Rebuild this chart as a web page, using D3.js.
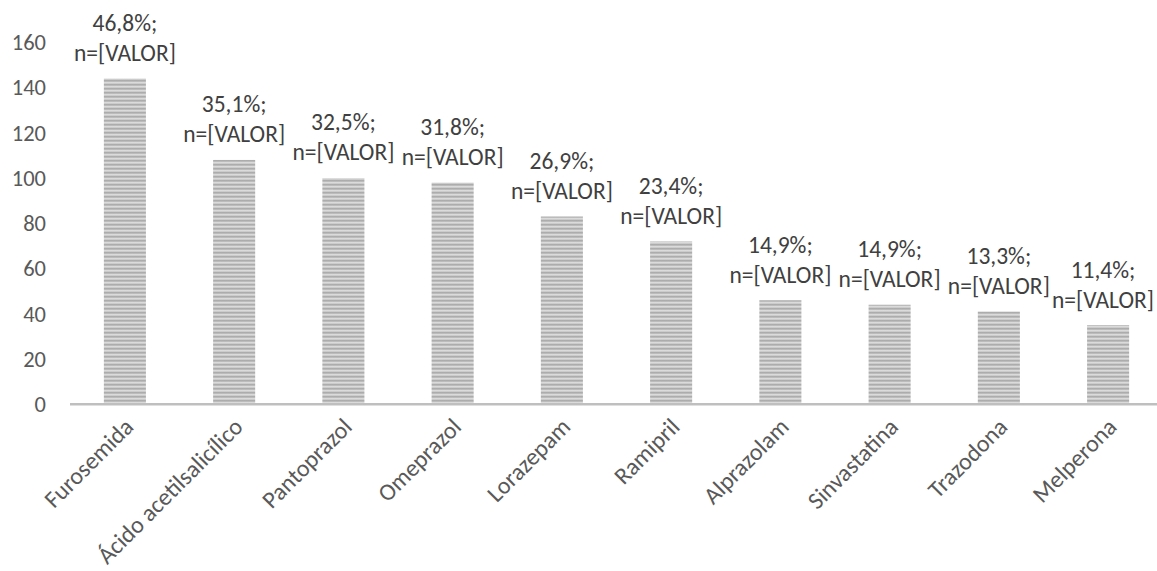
<!DOCTYPE html>
<html>
<head>
<meta charset="utf-8">
<script src="https://cdn.jsdelivr.net/npm/d3@7"></script>
<style>
  html, body { margin: 0; padding: 0; background: #fff; }
  svg { display: block; }
  text { font-family: Carlito, Calibri, Lato, "Open Sans", sans-serif; }
</style>
</head>
<body>
<svg id="chart" width="1157" height="571"></svg>
<script>
// Medication counts with their share of patients
const categories = ["Furosemida", "Ácido acetilsalicílico", "Pantoprazol", "Omeprazol", "Lorazepam",
                    "Ramipril", "Alprazolam", "Sinvastatina", "Trazodona", "Melperona"];
const counts = [144, 108, 100, 98, 83, 72, 46, 44, 41, 35];
const percents = ["46,8%", "35,1%", "32,5%", "31,8%", "26,9%", "23,4%", "14,9%", "14,9%", "13,3%", "11,4%"];
const yTicks = [0, 20, 40, 60, 80, 100, 120, 140, 160];

const W = 1157, H = 571;
const svg = d3.select("#chart");

const x = d3.scaleBand().domain(categories).range([70, 1163]).paddingInner(0.615).paddingOuter(0.31);
const y = d3.scaleLinear().domain([0, 160]).range([404.3, 42.3]);

// striped fill for the columns
const defs = svg.append("defs");
const grad = defs.append("linearGradient").attr("id", "stripeGrad")
  .attr("x1", 0).attr("y1", 0).attr("x2", 0).attr("y2", 1);
grad.append("stop").attr("offset", "0%").attr("stop-color", "#a6a6a6");
grad.append("stop").attr("offset", "35%").attr("stop-color", "#b8b8b8");
grad.append("stop").attr("offset", "60%").attr("stop-color", "#dcdcdc");
grad.append("stop").attr("offset", "100%").attr("stop-color", "#c4c4c4");
const pat = defs.append("pattern").attr("id", "stripes")
  .attr("patternUnits", "userSpaceOnUse").attr("width", 8).attr("height", 4);
pat.append("rect").attr("width", 8).attr("height", 4).attr("fill", "url(#stripeGrad)");

// columns
svg.append("g").selectAll("rect").data(categories).join("rect")
  .attr("x", d => x(d))
  .attr("y", (d, i) => y(counts[i]))
  .attr("width", x.bandwidth())
  .attr("height", (d, i) => y(0) - y(counts[i]))
  .attr("fill", "url(#stripes)");

// value axis (labels only)
const yAxis = svg.append("g").attr("transform", "translate(46,0)")
  .call(d3.axisLeft(y).tickValues(yTicks).tickSize(0).tickPadding(0).tickFormat(d3.format("d")));
yAxis.select(".domain").remove();
yAxis.selectAll("text").attr("fill", "#595959").style("font-size", "22.5px")
  .style("font-family", "Carlito, Calibri, Lato, sans-serif");

// category axis
const xAxis = svg.append("g").attr("transform", `translate(0,${y(0)})`)
  .call(d3.axisBottom(x).tickSize(0).tickPadding(0));
xAxis.select(".domain").attr("stroke", "#bfbfbf").attr("stroke-width", 2.6)
  .attr("d", `M70,0H${W}`);
xAxis.selectAll(".tick text")
  .attr("fill", "#595959").style("font-size", "24px")
  .style("font-family", "Carlito, Calibri, Lato, sans-serif")
  .attr("text-anchor", "end")
  .attr("dy", 0).attr("y", 0).attr("x", 0)
  .attr("transform", "translate(10,24) rotate(-45)");

// data labels: two lines centred over each column, kept inside the canvas
const labels = svg.append("g").selectAll("text").data(categories).join("text")
  .attr("fill", "#404040").style("font-size", "23.5px")
  .attr("text-anchor", "middle");
labels.each(function (d, i) {
  const t = d3.select(this);
  const base = y(counts[i]) - 17.6;
  let cx = x(d) + x.bandwidth() / 2;
  t.append("tspan").attr("x", cx).attr("y", base - 30).text(percents[i] + ";");
  t.append("tspan").attr("x", cx).attr("y", base).text("n=[VALOR]");
  const w = this.getBBox().width;
  if (cx + w / 2 > W - 3) cx = W - 3 - w / 2;
  t.selectAll("tspan").attr("x", cx);
});
</script>
</body>
</html>
